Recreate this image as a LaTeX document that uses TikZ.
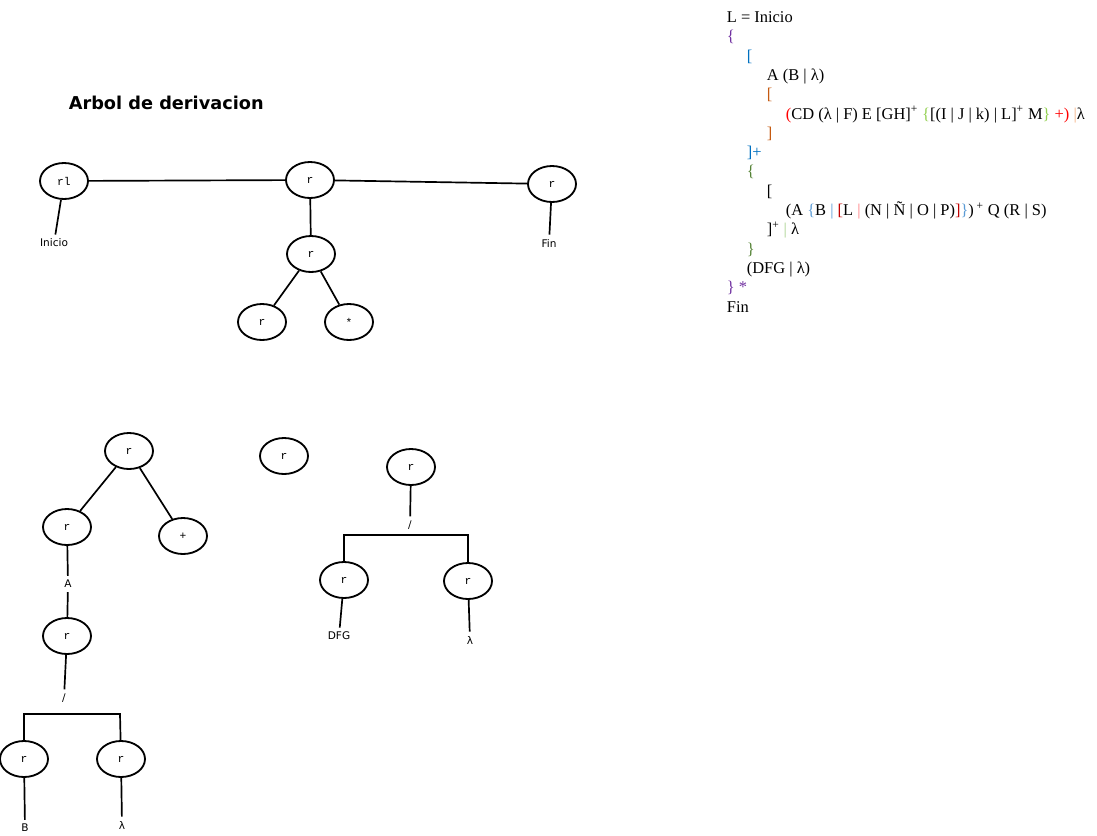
\documentclass[tikz,border=0pt]{standalone}
\usepackage{fontspec}
\setmainfont{Liberation Serif}
\newfontfamily\lblfont{DejaVu Sans}
\newfontfamily\rfont{Liberation Mono}
\usetikzlibrary{shapes.geometric}
\definecolor{cpurple}{HTML}{7030A0}
\definecolor{cblue}{HTML}{0070C0}
\definecolor{corange}{HTML}{C55A11}
\definecolor{cred}{HTML}{FF0000}
\definecolor{ctan}{HTML}{F4B183}
\definecolor{clgreen}{HTML}{92D050}
\definecolor{cdgreen}{HTML}{548235}
\definecolor{cpgreen}{HTML}{A9D18E}
\definecolor{clblue}{HTML}{5B9BD5}
\definecolor{cdred}{HTML}{C00000}
\definecolor{clred}{HTML}{FF7C80}
\tikzset{
  rnode/.style={draw,ellipse,line width=1.3pt,minimum width=1.2cm,minimum height=0.9cm,inner sep=0pt,font=\rfont\fontsize{8}{9}\selectfont},
  lbl/.style={inner sep=2.5pt,font=\lblfont\fontsize{7.5}{9}\selectfont},
  txtline/.style={inner sep=0pt,anchor=base west,font=\fontsize{11.7}{14}\selectfont},
}

\begin{document}
\begin{tikzpicture}[x=0.025cm,y=-0.025cm,line width=1.2pt]
      \useasboundingbox (0,0) rectangle (1097,835);
      \node [anchor=west,inner sep=0pt,font=\lblfont\bfseries\fontsize{12.6}{15}\selectfont] (title) at (68,103) {Arbol de derivacion};
      % arbol principal
      \node [rnode] (rl) at (64,181) {rl};
      \node [rnode] (rtop) at (310,180) {r};
      \node [rnode] (rfin) at (552,184) {r};
      \node [rnode] (rmid) at (311,254) {r};
      \node [rnode] (rleft) at (262,322) {r};
      \node [rnode] (rstar) at (349,322) {*};
      \node [lbl] (inicio) at (54,243) {Inicio};
      \node [lbl] (fin) at (549,243) {Fin};
      \draw (rl)--(rtop)--(rfin);
      \draw (rl)--(inicio);
      \draw (rfin)--(fin);
      \draw (rtop)--(rmid);
      \draw (rmid)--(rleft);
      \draw (rmid)--(rstar);
      % subarbol A (B | lambda)
      \node [rnode] (rA) at (129,451) {r};
      \node [rnode] (rAa) at (67,527) {r};
      \node [rnode] (rplus) at (183,536) {+};
      \node [lbl] (lblA) at (68,584) {A};
      \node [rnode] (rAb) at (67,636) {r};
      \node [lbl] (slashA) at (64,698) {/};
      \node [rnode] (rB) at (24,759) {r};
      \node [rnode] (rlamA) at (121,759) {r};
      \node [lbl] (lblB) at (25,828) {B};
      \node [lbl] (lamA) at (122,825) {λ};
      \coordinate (barAl) at (24,714);
      \coordinate (barAr) at (120,714);
      \draw (rA)--(rAa);
      \draw (rA)--(rplus);
      \draw (rAa)--(lblA)--(rAb);
      \draw (rAb)--(slashA);
      \draw (rB)--(barAl)--(barAr)--(rlamA);
      \draw (rB)--(lblB);
      \draw (rlamA)--(lamA);
      \node [rnode] (rsolo) at (284,456) {r};
      % subarbol (DFG | lambda)
      \node [rnode] (rD) at (411,467) {r};
      \node [lbl] (slashD) at (410,525) {/};
      \node [rnode] (rDFG) at (344,580) {r};
      \node [rnode] (rlamD) at (468,581) {r};
      \node [lbl] (lblDFG) at (339,636) {DFG};
      \node [lbl] (lamD) at (470,640) {λ};
      \coordinate (barDl) at (344,535);
      \coordinate (barDr) at (468,535);
      \draw (rD)--(slashD);
      \draw (rDFG)--(barDl)--(barDr)--(rlamD);
      \draw (rDFG)--(lblDFG);
      \draw (rlamD)--(lamD);
      % gramatica
      \node [txtline] (t1) at (726,22.5) {L = Inicio};
      \node [txtline] (t2) at (726,41.8) {\color{cpurple}\{};
      \node [txtline] (t3) at (746,61.1) {\color{cblue}[};
      \node [txtline] (t4) at (766,80.4) {A (B | λ)};
      \node [txtline] (t5) at (766,99.7) {\color{corange}[};
      \node [txtline] (t6) at (785,119) {{\color{cred}(}CD (λ | F) E [GH]\textsuperscript{+} {\color{clgreen}\{}[(I | J | k) | L]\textsuperscript{+} M{\color{clgreen}\}} {\color{cred}+)} {\color{ctan}|}λ};
      \node [txtline] (t7) at (766,138.3) {\color{corange}]};
      \node [txtline] (t8) at (746,157.6) {\color{cblue}]+};
      \node [txtline] (t9) at (746,176.9) {\color{cdgreen}\{};
      \node [txtline] (t10) at (766,196.2) {[};
      \node [txtline] (t11) at (785,215.5) {(A {\color{clblue}\{}B {\color{clblue}|} {\color{cdred}[}L {\color{clred}|} (N | Ñ | O | P){\color{cdred}]}{\color{clblue}\}})\,\textsuperscript{+} Q (R | S)};
      \node [txtline] (t12) at (766,234.8) {]\textsuperscript{+} {\color{cpgreen}|} λ};
      \node [txtline] (t13) at (746,254.1) {\color{cdgreen}\}};
      \node [txtline] (t14) at (746,273.4) {(DFG | λ)};
      \node [txtline] (t15) at (726,292.7) {\color{cpurple}\} *};
      \node [txtline] (t16) at (726,312) {Fin};
\end{tikzpicture}
\end{document}
